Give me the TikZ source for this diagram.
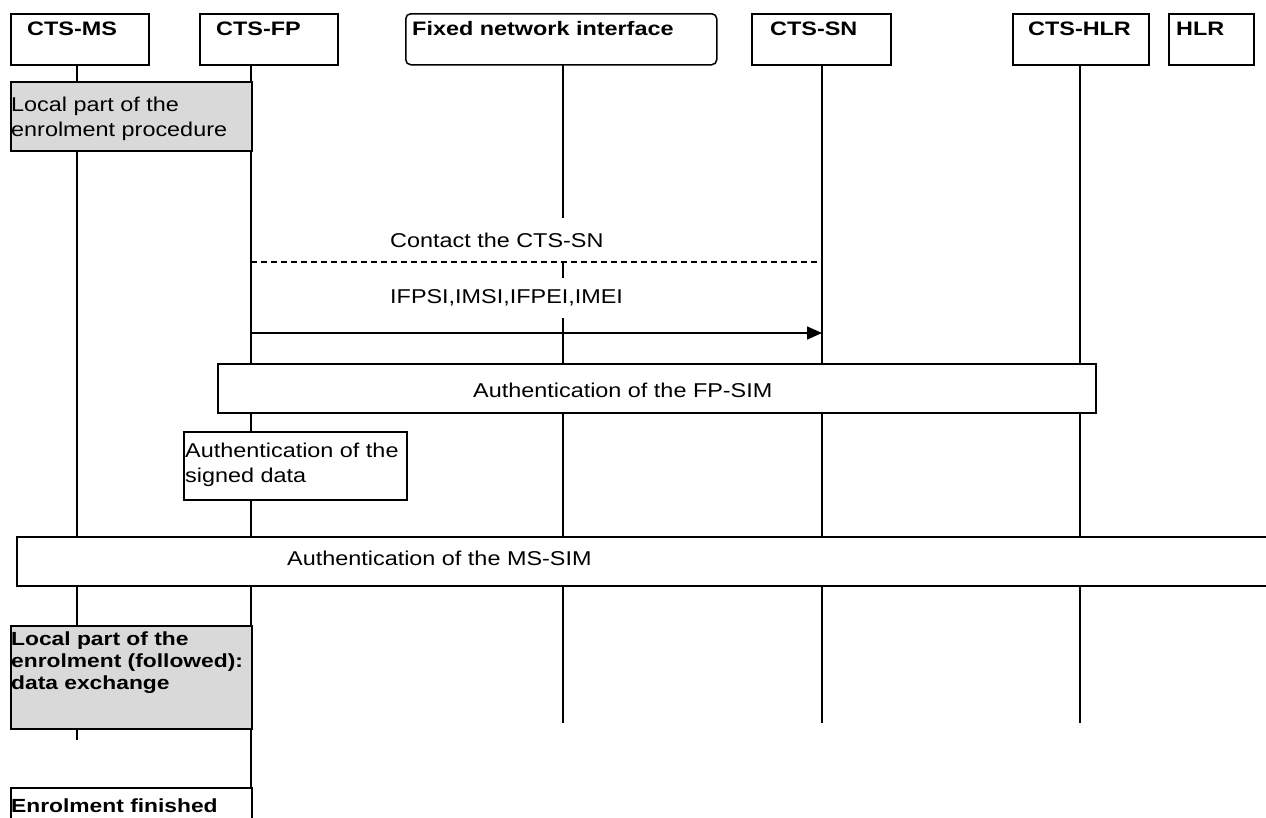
\documentclass[tikz,border=0pt]{standalone}
\usepackage{fontspec}
\usetikzlibrary{arrows.meta}
\newfontfamily\rfont{Liberation Sans}[FakeStretch=1.17]
\newfontfamily\bfont{Liberation Sans}[FakeStretch=1.2]
\definecolor{boxgray}{RGB}{217,217,217}
\tikzset{
  x=1pt, y=-1pt,
  ln/.style={line width=1.5pt, black},
  frame/.style={draw, ln, inner sep=0pt, anchor=north west, fill=white},
  hdr/.style={font=\bfont\bfseries\fontsize{19.5}{22}\selectfont, anchor=west, inner sep=0pt},
  btxt/.style={font=\bfont\bfseries\fontsize{19}{22}\selectfont, anchor=west, inner sep=0pt, align=left},
  rtxt/.style={font=\rfont\fontsize{20}{25.5}\selectfont, anchor=west, inner sep=0pt, align=left},
  msg/.style={font=\rfont\fontsize{20}{25}\selectfont, anchor=west, inner xsep=1pt, fill=white},
}
\begin{document}
\begin{tikzpicture}
\useasboundingbox (0,0) rectangle (1266,817);
\clip (0,0) rectangle (1266,817);
% header boxes
\node[frame, minimum width=138pt, minimum height=51pt] (ms) at (10,13) {};
\node[frame, minimum width=138pt, minimum height=51pt] (fp) at (199,13) {};
\node[frame, rounded corners=5pt, minimum width=311pt, minimum height=51pt] (fni) at (405,13) {};
\node[frame, minimum width=139pt, minimum height=51pt] (sn) at (751,13) {};
\node[frame, minimum width=136pt, minimum height=51pt] (chlr) at (1012,13) {};
\node[frame, minimum width=85pt, minimum height=51pt] (hlr) at (1168,13) {};
\node[hdr] (mst) at (27,29) {CTS-MS};
\node[hdr] (fpt) at (216,29) {CTS-FP};
\node[hdr] (fnit) at (412,29) {Fixed network interface};
\node[hdr] (snt) at (770,29) {CTS-SN};
\node[hdr] (chlrt) at (1028,29) {CTS-HLR};
\node[hdr] (hlrt) at (1176,29) {HLR};
% lifeline coordinates
\coordinate (msA) at (77,64);   \coordinate (msB) at (77,740);
\coordinate (fpA) at (251,64);  \coordinate (fpB) at (251,817);
\coordinate (fniA) at (563,64); \coordinate (fniB) at (563,723);
\coordinate (snA) at (822,64);  \coordinate (snB) at (822,723);
\coordinate (hlA) at (1080,64); \coordinate (hlB) at (1080,723);
\draw[ln] (msA) -- (msB);
\draw[ln] (fpA) -- (fpB);
\draw[ln] (fniA) -- (fniB);
\draw[ln] (snA) -- (snB);
\draw[ln] (hlA) -- (hlB);
% local part box
\node[frame, fill=boxgray, minimum width=241pt, minimum height=69pt] (loc1) at (10,81) {};
\node[rtxt] (loc1t) at (11,119) {Local part of the\\enrolment procedure};
% messages
\node[msg, minimum height=44pt] (contact) at (389,240) {Contact the CTS-SN};
\node[msg, minimum height=40pt] (ids) at (389,298) {IFPSI,IMSI,IFPEI,IMEI};
\coordinate (d1) at (251,262); \coordinate (d2) at (822,262);
\draw[ln, line width=1.2pt, dash pattern=on 6pt off 4pt] (d1) -- (d2);
\coordinate (a1) at (251,333); \coordinate (a2) at (822,333);
\draw[ln, -{Triangle[length=15pt,width=13pt]}] (a1) -- (a2);
% FP-SIM authentication
\node[frame, minimum width=878pt, minimum height=49pt] (fpsim) at (217,363) {};
\node[rtxt] (fpsimt) at (473,390) {Authentication of the FP-SIM};
% signed data
\node[frame, minimum width=223pt, minimum height=68pt] (sig) at (183,431) {};
\node[rtxt] (sigt) at (185,465) {Authentication of the\\signed data};
% MS-SIM authentication
\node[frame, minimum width=1270pt, minimum height=49pt] (mssim) at (16,536) {};
\node[rtxt] (mssimt) at (287,558) {Authentication of the MS-SIM};
% local part followed
\node[frame, fill=boxgray, minimum width=241pt, minimum height=103pt] (loc2) at (10,625) {};
\node[btxt] (loc2t) at (11,663) {Local part of the\\enrolment (followed):\\data exchange};
% enrolment finished
\node[frame, minimum width=241pt, minimum height=50pt] (fin) at (10,787) {};
\node[btxt] (fint) at (11,806) {Enrolment finished};
\end{tikzpicture}
\end{document}
